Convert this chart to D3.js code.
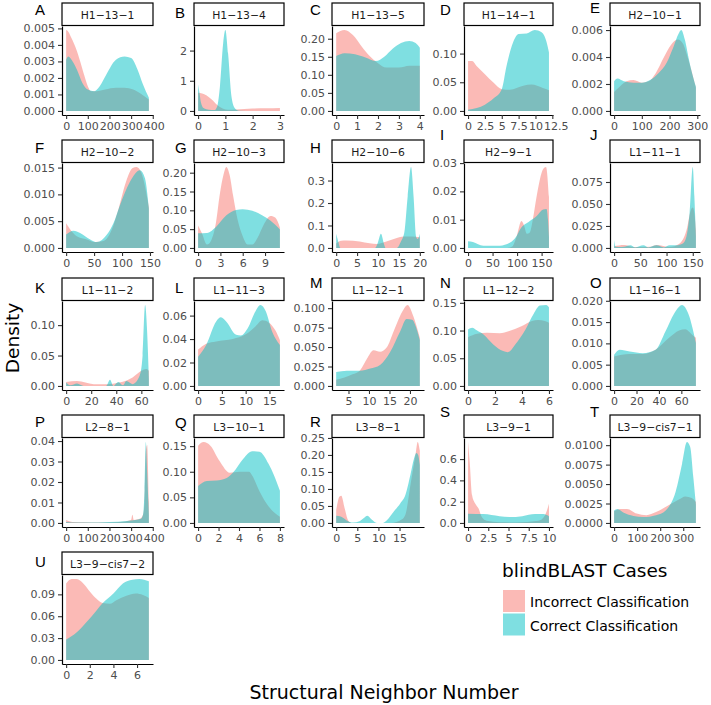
<!DOCTYPE html>
<html><head><meta charset="utf-8">
<script src="https://cdn.jsdelivr.net/npm/d3@7"></script>
<style>body{margin:0;background:#fff}</style>
</head><body>
<svg id="chart" width="711" height="705"></svg>
<script>
// ---------- DATA ----------
const panelNames = ["H1−13−1","H1−13−4","H1−13−5","H1−14−1","H2−10−1",
  "H2−10−2","H2−10−3","H2−10−6","H2−9−1","L1−11−1",
  "L1−11−2","L1−11−3","L1−12−1","L1−12−2","L1−16−1",
  "L2−8−1","L3−10−1","L3−8−1","L3−9−1","L3−9−cis7−1","L3−9−cis7−2"];
const panelLetters = ["A","B","C","D","E","F","G","H","I","J","K","L","M","N","O","P","Q","R","S","T","U"];
const seriesNames = ["Incorrect Classification","Correct Classification"];
const legendTitle = "blindBLAST Cases";
const xTitle = "Structural Neighbor Number";
const yTitle = "Density";

const xTickLabels = [
  ["0","100","200","300","400"],["0","1","2","3"],["0","1","2","3","4"],["0","2.5","5","7.5","10","12.5"],["0","100","200","300"],
  ["0","50","100","150"],["0","3","6","9"],["0","5","10","15","20"],["0","50","100","150"],["0","50","100","150"],
  ["0","20","40","60"],["0","5","10","15"],["5","10","15","20"],["0","2","4","6"],["0","20","40","60"],
  ["0","100","200","300","400"],["0","2","4","6","8"],["0","5","10","15"],["0","2.5","5","7.5","10"],["0","100","200","300"],
  ["0","2","4","6"]];
const yTickLabels = [
  ["0.000","0.001","0.002","0.003","0.004","0.005"],["0","1","2"],["0.00","0.05","0.10","0.15","0.20"],["0.00","0.05","0.10"],["0.000","0.002","0.004","0.006"],
  ["0.000","0.005","0.010","0.015"],["0.00","0.05","0.10","0.15","0.20"],["0.0","0.1","0.2","0.3"],["0.00","0.01","0.02","0.03"],["0.000","0.025","0.050","0.075"],
  ["0.00","0.05","0.10"],["0.00","0.02","0.04","0.06"],["0.000","0.025","0.050","0.075","0.100"],["0.00","0.05","0.10","0.15"],["0.000","0.005","0.010","0.015","0.020"],
  ["0.00","0.01","0.02","0.03","0.04"],["0.00","0.05","0.10","0.15"],["0.00","0.05","0.10","0.15","0.20","0.25"],["0.0","0.2","0.4","0.6"],["0.0000","0.0025","0.0050","0.0075","0.0100"],
  ["0.00","0.03","0.06","0.09"]];

// density estimates [x, density]
const incA = [[0,0.0049],[10,0.0048],[25,0.0044],[45,0.0038],[65,0.0030],[85,0.0021],[100,0.0015],[115,0.0012],[140,0.0012],[180,0.0013],[230,0.0014],[270,0.0014],[310,0.0013],[350,0.0010],[382,0.0007]];
const corA = [[0,0.0031],[10,0.0033],[30,0.0030],[50,0.0025],[75,0.0017],[100,0.0013],[130,0.0012],[155,0.0015],[185,0.0022],[230,0.0031],[270,0.0033],[300,0.0032],[330,0.0025],[355,0.0016],[382,0.0008]];
const incB = [[0,0.6],[0.15,0.58],[0.3,0.52],[0.5,0.38],[0.7,0.2],[0.9,0.08],[1.1,0.04],[1.4,0.05],[2,0.08],[2.5,0.09],[3,0.1]];
const corB = [[0,0.88],[0.05,0.6],[0.1,0.3],[0.2,0.1],[0.4,0.04],[0.6,0.03],[0.7,0.15],[0.8,0.8],[0.92,2.25],[1.0,2.68],[1.1,1.9],[1.22,0.5],[1.34,0.1],[1.5,0.01],[2,0],[3,0]];
const incC = [[0,0.215],[0.4,0.224],[0.8,0.21],[1.2,0.18],[1.6,0.152],[2.0,0.132],[2.4,0.12],[3.0,0.12],[3.5,0.125],[4,0.125]];
const corC = [[0,0.152],[0.4,0.16],[0.9,0.157],[1.4,0.148],[1.9,0.138],[2.3,0.15],[2.7,0.172],[3.1,0.188],[3.5,0.194],[3.8,0.188],[4,0.175]];
const incD = [[0,0.087],[0.6,0.087],[1.3,0.078],[2.5,0.064],[3.8,0.049],[5,0.038],[6.2,0.037],[8.2,0.044],[9.4,0.046],[11.1,0.04],[12,0.036]];
const corD = [[0,0.002],[1.3,0.005],[2.5,0.011],[3.8,0.022],[5,0.038],[5.7,0.078],[6.7,0.12],[7.5,0.134],[8.7,0.135],[9.9,0.141],[10.9,0.137],[11.6,0.122],[12,0.102]];
const incE = [[0,0.0014],[20,0.0018],[45,0.0022],[70,0.0023],[100,0.0021],[125,0.0022],[150,0.0028],[180,0.0040],[205,0.0049],[230,0.0053],[248,0.005],[265,0.004],[280,0.0029],[295,0.0017]];
const corE = [[0,0.0022],[12,0.0024],[35,0.0022],[70,0.0021],[100,0.0021],[130,0.0023],[160,0.0028],[190,0.0036],[215,0.0048],[232,0.0057],[242,0.006],[255,0.0053],[270,0.0038],[285,0.0025],[295,0.0018]];
const incF = [[0,0.0046],[7,0.0035],[19,0.0022],[37,0.0016],[52,0.0011],[67,0.0013],[82,0.0035],[93,0.007],[107,0.0123],[119,0.0149],[126,0.0151],[135,0.0139],[148,0.0076]];
const corF = [[0,0.0025],[13,0.0032],[25,0.0028],[43,0.0016],[55,0.0011],[73,0.0025],[85,0.0047],[96,0.0079],[114,0.0123],[132,0.0145],[141,0.013],[148,0.0073]];
const incG = [[0,0.06],[0.5,0.04],[1.2,0.009],[1.8,0.022],[2.4,0.067],[2.9,0.14],[3.4,0.193],[3.8,0.215],[4.25,0.193],[4.7,0.14],[5.3,0.076],[6,0.031],[6.65,0.009],[7.3,0.009],[8,0.027],[8.85,0.063],[9.75,0.085],[10.4,0.08],[11,0.054]];
const corG = [[0,0.039],[1.2,0.04],[2.5,0.058],[3.8,0.087],[5.1,0.101],[6,0.103],[7.3,0.099],[8.6,0.087],[9.75,0.072],[11,0.049]];
const incH = [[0,0.02],[1.2,0.032],[2.4,0.033],[5.6,0.029],[8,0.021],[9.7,0.018],[12,0.029],[14.5,0.044],[16.1,0.051],[18.1,0.051],[20,0.048]];
const corH = [[0,0.063],[0.4,0.035],[1,0],[9.3,0],[9.9,0.02],[10.7,0.063],[11.4,0.02],[11.8,0],[14.5,0],[15.5,0.03],[16.3,0.07],[17.1,0.23],[17.9,0.36],[18.5,0.23],[19.1,0.05],[19.5,0.04],[20,0.063]];
const incI = [[0,0],[80,0],[90,0.0005],[99,0.004],[109,0.0095],[114,0.008],[120,0.005],[126,0.0055],[132,0.01],[140,0.0184],[153,0.0278],[159,0.0286],[165,0.018]];
const corI = [[0,0.0024],[10,0.0021],[31,0.0008],[65,0.0008],[85,0.0018],[99,0.0042],[106,0.0065],[126,0.0095],[140,0.0113],[153,0.0136],[160,0.0138],[163,0.01],[165,0.004]];
const incJ = [[0,0.002],[19,0.0035],[37,0.001],[69,0.0015],[81,0.0035],[106,0.001],[125,0.005],[138,0.02],[147,0.044],[150,0.046],[153,0.04],[156,0.02]];
const corJ = [[0,0.009],[3,0.0015],[15,0.001],[31,0.003],[40,0.0005],[56,0.003],[65,0.0005],[81,0.003],[95,0.0005],[106,0.003],[119,0.003],[131,0.005],[138,0.013],[144,0.04],[150,0.092],[153,0.059],[156,0.013]];
const incK = [[0,0.0067],[8.7,0.008],[22,0.003],[32,0.003],[42.6,0.0055],[53,0.014],[60,0.025],[64,0.028],[66,0.025]];
const corK = [[0,0.0055],[3.4,0.001],[8.7,0.004],[14,0],[32,0],[35,0.01],[37.6,0],[41.6,0.0067],[45.5,0.001],[48,0.008],[53,0.003],[58.7,0.017],[61,0.05],[63,0.133],[64.5,0.094],[66,0.011]];
const incL = [[0,0.031],[1.7,0.036],[3.8,0.038],[7.3,0.04],[10,0.044],[12.1,0.051],[13.5,0.056],[14.9,0.054],[16.3,0.047],[17.2,0.039]];
const corL = [[0,0.025],[1.7,0.035],[3.8,0.055],[4.8,0.0585],[5.9,0.055],[8,0.0437],[9,0.043],[10.4,0.049],[12.1,0.064],[13.1,0.069],[14.2,0.064],[15.6,0.046],[17.2,0.035]];
const incM = [[2,0.008],[4,0.011],[6,0.015],[7.8,0.02],[9.5,0.035],[11.1,0.046],[12.7,0.044],[14.4,0.05],[16,0.07],[18.4,0.098],[19.4,0.104],[20.8,0.09],[22.4,0.062]];
const corM = [[2,0.018],[4.6,0.0196],[7.8,0.0196],[10.3,0.0225],[12.7,0.027],[15.2,0.044],[17.6,0.07],[19.2,0.086],[20.5,0.085],[21.7,0.072],[22.4,0.059]];
const incN = [[0,0.088],[0.67,0.094],[1.4,0.096],[2.35,0.095],[3.06,0.099],[4,0.108],[4.74,0.117],[5.2,0.119],[5.7,0.117],[6,0.114]];
const corN = [[0,0.102],[0.3,0.105],[0.67,0.1],[1.15,0.093],[1.87,0.075],[2.6,0.063],[2.95,0.061],[3.5,0.075],[4.26,0.102],[4.86,0.13],[5.33,0.145],[5.8,0.146],[6,0.142]];
const incO = [[0,0.0069],[14,0.0075],[25.7,0.0075],[37,0.0085],[49,0.0113],[58,0.013],[63.5,0.0133],[69.4,0.0121],[73,0.0113]];
const corO = [[0,0.0073],[5,0.0085],[14,0.0081],[25.7,0.0077],[37,0.0085],[46,0.0129],[55,0.0176],[60.6,0.019],[66.5,0.0168],[73,0.0101]];
const incP = [[0,0.0015],[30,0.0005],[80,0.0003],[150,0.0002],[250,0.0005],[300,0.0015],[306,0.004],[312,0.0015],[340,0.002],[355,0.004],[362,0.01],[368,0.035],[374,0.038],[382,0.01]];
const corP = [[0,0.0005],[50,0.0002],[100,0.0002],[200,0.0005],[280,0.001],[320,0.0015],[345,0.002],[355,0.004],[362,0.016],[368,0.0395],[374,0.025],[382,0.004]];
const incQ = [[0,0.151],[0.54,0.158],[1.2,0.151],[2.1,0.121],[3.1,0.098],[4.06,0.1],[5,0.1],[5.3,0.092],[6,0.062],[6.9,0.032],[8,0.012]];
const corQ = [[0,0.072],[0.86,0.082],[1.8,0.083],[2.8,0.088],[3.4,0.098],[4.4,0.125],[5.3,0.14],[6,0.139],[6.9,0.115],[8,0.063]];
const incR = [[0,0.038],[0.8,0.078],[1.2,0.08],[2,0.043],[2.8,0.008],[3.6,0],[13,0],[15.5,0.01],[16.4,0.025],[17.6,0.113],[18.8,0.203],[19.3,0.238],[19.8,0.213]];
const corR = [[0,0.021],[1.2,0.018],[2.4,0.008],[4,0.001],[5.5,0.005],[6.4,0.013],[7.4,0.021],[8.4,0.01],[9.6,0],[11,0],[12,0.008],[13.6,0.033],[15.2,0.058],[16.4,0.083],[17.6,0.143],[18.4,0.188],[19,0.206],[19.4,0.2],[19.8,0.17]];
const incS = [[0,0.76],[0.2,0.58],[0.5,0.26],[0.9,0.18],[1.3,0.135],[1.7,0.055],[2.3,0.02],[3.9,0.006],[5.9,0.005],[8.7,0.02],[9.5,0.07],[10,0.18]];
const corS = [[0,0.087],[1.9,0.083],[3.9,0.064],[5.1,0.055],[6.7,0.064],[8.3,0.083],[9.3,0.083],[10,0.064]];
const incT = [[0,0.0015],[28,0.0018],[56,0.0018],[98,0.0012],[140,0.001],[182,0.0014],[238,0.0023],[281,0.003],[309,0.0034],[337,0.0032],[355,0.0027]];
const corT = [[0,0.0016],[14,0.0018],[42,0.0013],[84,0.0009],[126,0.00075],[182,0.001],[224,0.0016],[267,0.004],[295,0.0076],[316,0.0104],[330,0.0098],[344,0.0058],[355,0.0023]];
const incU = [[0,0.105],[0.47,0.111],[0.9,0.111],[1.45,0.105],[2,0.094],[2.57,0.084],[3.1,0.078],[3.7,0.077],[4.25,0.082],[5.1,0.088],[5.9,0.091],[6.5,0.089],[7,0.085]];
const corU = [[0,0.028],[0.9,0.038],[1.73,0.052],[2.57,0.068],[3.1,0.078],[4,0.091],[4.8,0.105],[5.6,0.11],[6.2,0.111],[7,0.108]];

const incorrectSeries = [incA,incB,incC,incD,incE,incF,incG,incH,incI,incJ,incK,incL,incM,incN,incO,incP,incQ,incR,incS,incT,incU];
const correctSeries   = [corA,corB,corC,corD,corE,corF,corG,corH,corI,corJ,corK,corL,corM,corN,corO,corP,corQ,corR,corS,corT,corU];

// ---------- LAYOUT / STYLE ----------
const colors = ["rgba(248,118,109,0.5)","rgba(0,191,196,0.5)"];
const colLeft = [62,194,332,464,610], colRight = [153,284,424,553,700];
const rowTop = [3,140,278,415,552];
const stripH = 22.5, panelH = 89;
const letterX = [35,175,310,440,590];
const letterDy = [12,15,12,12,10, 13,13,13,0,0, 15,15,10,10,10, 12,13,12,2,2, 15];
const FONT = "'DejaVu Sans', sans-serif";

const svg = d3.select("#chart");
svg.append("rect").attr("width",711).attr("height",705).attr("fill","#fff");

panelNames.forEach((name, i) => {
  const c = i % 5, r = Math.floor(i / 5);
  const L = colLeft[c], R = colRight[c];
  const sT = rowTop[r], pT = sT + stripH + 0.5, pB = pT + panelH;
  const inc = incorrectSeries[i], cor = correctSeries[i];
  const all = inc.concat(cor);
  const xmin = d3.min(all, d => d[0]), xmax = d3.max(all, d => d[0]);
  const ymax = d3.max(all, d => d[1]);
  const xr = xmax - xmin;
  const x = d3.scaleLinear().domain([xmin - 0.05*xr, xmax + 0.05*xr]).range([L, R]);
  const y = d3.scaleLinear().domain([-0.05*ymax, 1.05*ymax]).range([pB, pT]);
  const g = svg.append("g");

  const area = d3.area().curve(d3.curveMonotoneX)
    .x(d => x(d[0])).y0(y(0)).y1(d => y(d[1]));
  [inc, cor].forEach((s, k) => {
    g.append("path").datum(s).attr("d", area).attr("fill", colors[k]);
  });

  // axes
  const xt = xTickLabels[i], yt = yTickLabels[i];
  const xAxis = d3.axisBottom(x).tickValues(xt.map(Number))
    .tickFormat((d, j) => xt[j]).tickSizeInner(4).tickSizeOuter(0).tickPadding(3);
  const yAxis = d3.axisLeft(y).tickValues(yt.map(Number))
    .tickFormat((d, j) => yt[j]).tickSizeInner(4).tickSizeOuter(0).tickPadding(3);
  const gx = g.append("g").attr("transform", `translate(0,${pB})`).call(xAxis);
  const gy = g.append("g").attr("transform", `translate(${L},0)`).call(yAxis);
  [gx, gy].forEach(a => {
    a.select(".domain").attr("stroke", "#000").attr("stroke-width", 1.2);
    a.selectAll(".tick line").attr("stroke", "#333").attr("stroke-width", 1.1);
    a.selectAll(".tick text").attr("fill", "#4d4d4d").style("font-family", FONT).style("font-size", "11px");
  });
  // nudge crowded x tick labels so neighbours do not collide
  let prevRight = -Infinity;
  gx.selectAll(".tick text").each(function() {
    const bb = this.getBBox();
    const tr = this.parentNode.transform.baseVal.consolidate();
    const left = bb.x + (tr ? tr.matrix.e : 0);
    if (left < prevRight + 1) {
      const shift = prevRight + 1 - left;
      d3.select(this).attr("x", shift);
      prevRight = left + shift + bb.width;
    } else prevRight = left + bb.width;
  });

  // strip
  g.append("rect").attr("x", L).attr("y", sT).attr("width", R - L).attr("height", stripH)
    .attr("fill", "#fff").attr("stroke", "#000").attr("stroke-width", 1.2);
  g.append("text").attr("x", (L + R) / 2).attr("y", sT + 16).attr("text-anchor", "middle")
    .style("font-family", FONT).style("font-size", "10.8px").attr("fill", "#1a1a1a").text(name);

  // panel letter
  svg.append("text").attr("x", letterX[c]).attr("y", sT + letterDy[i])
    .style("font-family", "'Liberation Sans', Arial, sans-serif").style("font-size", "15px")
    .attr("fill", "#000").text(panelLetters[i]);
});

// axis titles
svg.append("text").attr("x", 384).attr("y", 699).attr("text-anchor", "middle")
  .style("font-family", FONT).style("font-size", "19px").attr("fill", "#000").text(xTitle);
svg.append("text").attr("transform", "translate(18.5,338) rotate(-90)").attr("text-anchor", "middle")
  .style("font-family", FONT).style("font-size", "18.5px").attr("fill", "#000").text(yTitle);

// legend
svg.append("text").attr("x", 502).attr("y", 577)
  .style("font-family", FONT).style("font-size", "18.5px").attr("fill", "#000").text(legendTitle);
seriesNames.forEach((s, k) => {
  const ky = 590 + k * 23.5;
  svg.append("rect").attr("x", 503).attr("y", ky).attr("width", 22).attr("height", 22).attr("fill", colors[k]);
  svg.append("text").attr("x", 530).attr("y", ky + 17)
    .style("font-family", FONT).style("font-size", "14px").attr("fill", "#000").text(s);
});
</script>
</body></html>
